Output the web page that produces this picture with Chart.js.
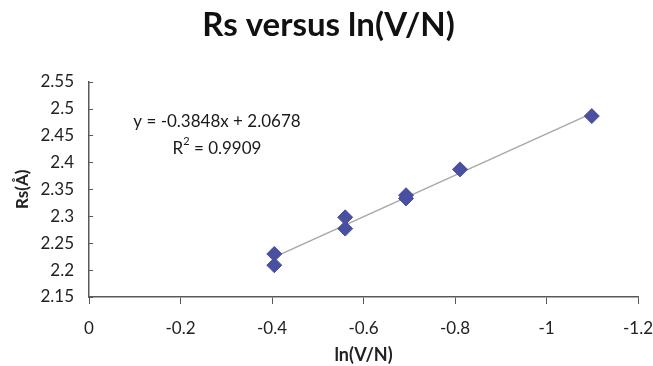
<!DOCTYPE html>
<html><head><meta charset="utf-8">
<script src="https://cdn.jsdelivr.net/npm/chart.js@4/dist/chart.umd.min.js"></script>
<style>html,body{margin:0;padding:0;background:#fff}#wrap{width:653px;height:366px}</style>
</head><body><div id="wrap"><canvas id="c" width="653" height="366"></canvas></div>
<script>
const xValues = [-0.405, -0.405, -0.56, -0.56, -0.693, -0.693, -0.811, -1.099];
const yValues = [2.209, 2.230, 2.277, 2.298, 2.333, 2.339, 2.387, 2.486];
const trendX = [-0.405, -1.099];
const trendY = [2.224, 2.491];
const xTicks = [0, -0.2, -0.4, -0.6, -0.8, -1, -1.2];
const yTicks = [2.15, 2.2, 2.25, 2.3, 2.35, 2.4, 2.45, 2.5, 2.55];
const equationText = "y = -0.3848x + 2.0678";
const r2Value = "0.9909";

const FONT = "Lato, 'Open Sans', sans-serif";
const axisColor = '#595959';
const textColor = '#222';

const extras = {
  id: 'extras',
  afterDraw(chart) {
    const ctx = chart.ctx;
    const xs = chart.scales.x, ys = chart.scales.y;
    ctx.save();
    ctx.strokeStyle = axisColor; ctx.lineWidth = 1;
    yTicks.forEach(v => {
      const py = Math.round(ys.getPixelForValue(v)) + 0.5;
      ctx.beginPath(); ctx.moveTo(xs.left, py); ctx.lineTo(xs.left + 4, py); ctx.stroke();
    });
    ctx.fillStyle = '#1a1a1a';
    ctx.font = "17px " + FONT;
    ctx.textAlign = 'center'; ctx.textBaseline = 'middle';
    ctx.fillText(equationText, 217, 122);
    const a = "R", b = " = " + r2Value;
    const wa = ctx.measureText(a).width, wb = ctx.measureText(b).width;
    ctx.font = "11px " + FONT;
    const ws = ctx.measureText("2").width;
    const total = wa + ws + wb;
    const sx = 217 - total / 2;
    ctx.textAlign = 'left';
    ctx.font = "17px " + FONT;
    ctx.fillText(a, sx, 149);
    ctx.font = "11px " + FONT;
    ctx.fillText("2", sx + wa, 141);
    ctx.font = "17px " + FONT;
    ctx.fillText(b, sx + wa + ws, 149);
    ctx.restore();
  }
};

new Chart(document.getElementById('c'), {
  type: 'scatter',
  data: {
    datasets: [
      {
        label: 'Rs',
        data: xValues.map((x, i) => ({x, y: yValues[i]})),
        pointStyle: 'rectRot',
        pointRadius: 7.5,
        backgroundColor: '#4A50A0',
        borderColor: '#4A50A0',
        borderWidth: 1,
        order: 1
      },
      {
        label: 'trend',
        type: 'line',
        data: trendX.map((x, i) => ({x, y: trendY[i]})),
        borderColor: '#a8a8a8',
        borderWidth: 1.5,
        pointRadius: 0,
        fill: false,
        order: 2
      }
    ]
  },
  options: {
    responsive: false,
    animation: false,
    devicePixelRatio: 1,
    layout: { padding: { left: 4, right: 0, top: 0, bottom: 0 } },
    plugins: {
      legend: { display: false },
      tooltip: { enabled: false },
      title: {
        display: true,
        text: 'Rs versus ln(V/N)',
        color: '#111',
        font: { family: FONT, size: 33, weight: 'bold' },
        padding: { top: 6, bottom: 36 }
      }
    },
    scales: {
      x: {
        type: 'linear',
        reverse: true,
        min: -1.2, max: 0,
        afterBuildTicks: s => { s.ticks = xTicks.map(v => ({value: v})); },
        afterFit: s => { s.height = 69; s.paddingRight = 15; s.paddingLeft = 0; },
        ticks: {
          color: textColor,
          font: { family: FONT, size: 17 },
          padding: 14,
          maxRotation: 0,
          callback: v => String(+Number(v).toFixed(2))
        },
        grid: { drawOnChartArea: false, drawTicks: true, tickLength: 7, color: axisColor },
        border: { color: axisColor, width: 1.5 },
        title: {
          display: true, text: 'ln(V/N)', color: textColor,
          font: { family: FONT, size: 18, weight: 'bold', lineHeight: 1.2 },
          padding: { top: 0, bottom: 0 }
        }
      },
      y: {
        type: 'linear',
        min: 2.15, max: 2.55,
        afterBuildTicks: s => { s.ticks = yTicks.map(v => ({value: v})); },
        afterFit: s => { s.width = 85; },
        ticks: {
          color: textColor,
          font: { family: FONT, size: 17 },
          padding: 15,
          callback: v => String(+Number(v).toFixed(2))
        },
        grid: { drawOnChartArea: false, drawTicks: false, color: axisColor },
        border: { color: axisColor, width: 1.5 },
        title: {
          display: true, text: 'Rs(Å)', color: textColor,
          font: { family: FONT, size: 17, weight: 'bold', lineHeight: 1.2 },
          padding: { top: 8, bottom: 0 }
        }
      }
    }
  },
  plugins: [extras]
});
</script></body></html>
